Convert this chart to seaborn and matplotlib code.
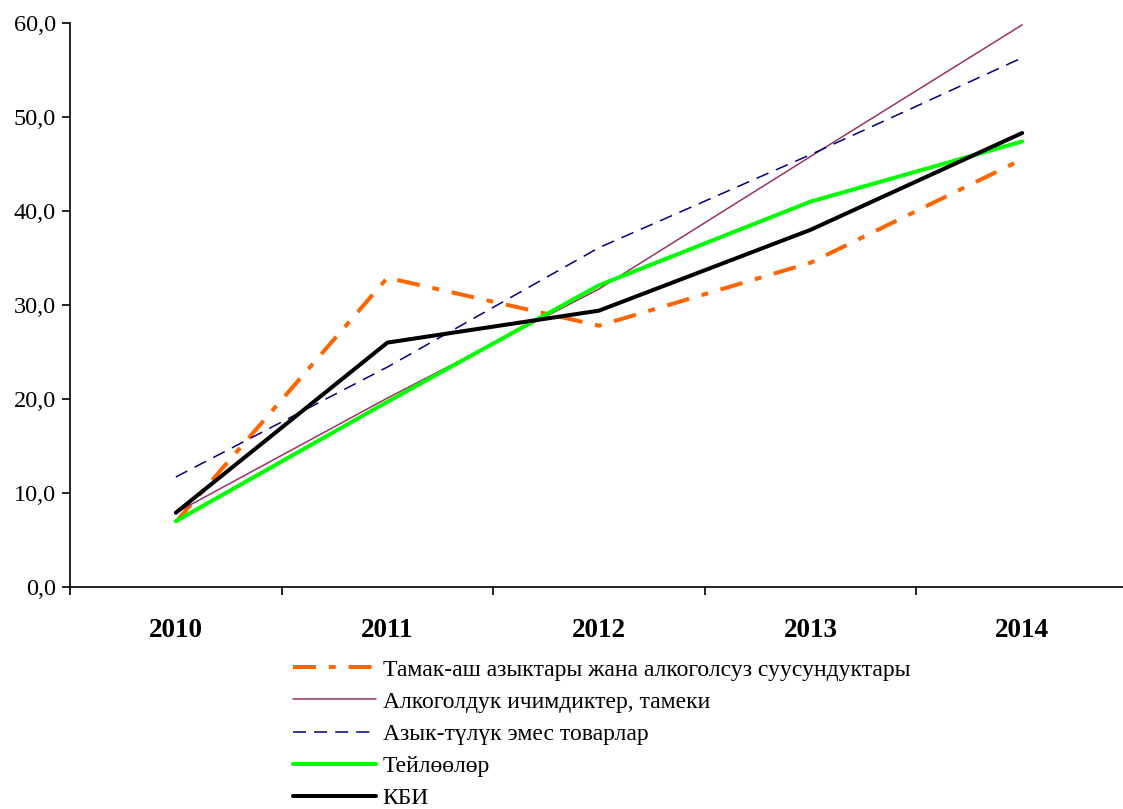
import matplotlib
matplotlib.use("Agg")
import matplotlib.pyplot as plt
import matplotlib.ticker as mticker
import numpy as np
import pandas as pd
import seaborn as sns

years = ["2010", "2011", "2012", "2013", "2014"]

food = [6.9, 32.9, 27.8, 34.5, 45.5]
alcohol = [7.9, 20.1, 31.7, 45.8, 59.8]
nonfood = [11.7, 23.4, 36.1, 46.0, 56.3]
services = [7.0, 19.7, 32.1, 41.0, 47.4]
cpi = [7.9, 26.0, 29.4, 38.0, 48.3]

labels = [
    "Тамак-аш азыктары жана алкоголсуз суусундуктары",
    "Алкоголдук ичимдиктер, тамеки",
    "Азык-түлүк эмес товарлар",
    "Тейлөөлөр",
    "КБИ",
]
series = [food, alcohol, nonfood, services, cpi]
colors = ["#FF6600", "#993366", "#000080", "#00FF00", "#000000"]
widths = [2.9, 1.1, 1.1, 2.9, 2.9]
styles = [(0, (5.7, 3.2, 1.7, 3.2)), "-", (0, (8.5, 5.3)), "-", "-"]

sns.set_style("white")
plt.rcParams["font.family"] = ["Liberation Serif", "DejaVu Serif"]
plt.rcParams["text.color"] = "black"
plt.rcParams["xtick.color"] = "black"
plt.rcParams["ytick.color"] = "black"

fig = plt.figure(figsize=(11.23, 8.09), dpi=100)
ax = fig.add_axes([70 / 1123, 222 / 809, 1058 / 1123, 564 / 809])

x = np.arange(len(years))
for vals, lab, col, lw, ls in zip(series, labels, colors, widths, styles):
    df = pd.DataFrame({"x": x, "y": vals})
    sns.lineplot(data=df, x="x", y="y", ax=ax, color=col, linewidth=lw,
                 linestyle=ls, label=lab, legend=False)

ax.set_xlim(-0.5, 4.5)
ax.set_ylim(0, 60)
ax.set_xlabel("")
ax.set_ylabel("")

# categories centred, tick marks between them
ax.set_xticks(x)
ax.set_xticklabels(years, fontsize=19.5, fontweight="bold")
ax.set_xticks(np.arange(-0.5, 5, 1), minor=True)
ax.tick_params(axis="x", which="major", bottom=True, length=0, pad=22)
ax.tick_params(axis="x", which="minor", bottom=True, length=6, width=1.2,
               direction="out", color="black")

ax.set_yticks(np.arange(0, 61, 10))
ax.yaxis.set_major_formatter(mticker.FuncFormatter(lambda v, p: f"{v:.1f}".replace(".", ",")))
ax.tick_params(axis="y", left=True, length=6, width=1.2, direction="out",
               color="black", labelcolor="black", labelsize=17.5, pad=4)

for side in ["top", "right"]:
    ax.spines[side].set_visible(False)
for side in ["left", "bottom"]:
    ax.spines[side].set_color("black")
    ax.spines[side].set_linewidth(1.2)

handles, labs = ax.get_legend_handles_labels()
leg = fig.legend(handles, labs, loc="upper left", bbox_to_anchor=(293 / 1123, 1 - 659 / 809),
                 frameon=False, fontsize=17, handlelength=3.5, handletextpad=0.3,
                 labelspacing=0.45, borderpad=0, borderaxespad=0)
for t in leg.get_texts():
    t.set_color("black")

fig.savefig("out.png", dpi=100)
